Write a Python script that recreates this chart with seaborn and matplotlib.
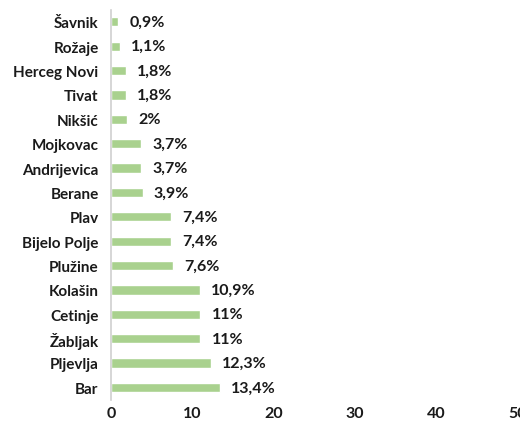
import matplotlib
matplotlib.use("Agg")
import matplotlib.pyplot as plt
import seaborn as sns
import pandas as pd

# Municipalities, top to bottom, and their share in percent
towns = ["Šavnik", "Rožaje", "Herceg Novi", "Tivat", "Nikšić", "Mojkovac",
         "Andrijevica", "Berane", "Plav", "Bijelo Polje", "Plužine", "Kolašin",
         "Cetinje", "Žabljak", "Pljevlja", "Bar"]
shares = [0.9, 1.1, 1.8, 1.8, 2, 3.7, 3.7, 3.9, 7.4, 7.4, 7.6, 10.9,
          11, 11, 12.3, 13.4]
x_ticks = [0, 10, 20, 30, 40, 50]

df = pd.DataFrame({"town": towns, "share": shares})

sns.set_style("white")
plt.rcParams["font.family"] = ["Lato", "DejaVu Sans"]

fig = plt.figure(figsize=(5.2, 4.27), dpi=100)
ax = fig.add_axes([0.2135, 0.062, 0.782, 0.913])

sns.barplot(data=df, x="share", y="town", color="#a9d18e", saturation=1,
            width=0.38, ax=ax)

labels = [(f"{v:g}".replace(".", ",") + "%") for v in shares]
ax.bar_label(ax.containers[0], labels=labels, padding=8,
             fontsize=11.5, fontweight="bold", color="#1a1a1a")

ax.set_xlim(0, 50)
ax.set_xticks(x_ticks)
ax.set_xlabel("")
ax.set_ylabel("")
ax.tick_params(axis="both", length=0, labelsize=11, colors="#1a1a1a")
ax.tick_params(axis="x", labelsize=11.5, pad=5)
ax.tick_params(axis="y", pad=9)
for lbl in ax.get_xticklabels() + ax.get_yticklabels():
    lbl.set_fontweight("bold")

for side in ["top", "right", "bottom"]:
    ax.spines[side].set_visible(False)
ax.spines["left"].set_color("#d0d0d0")
ax.spines["left"].set_linewidth(1.2)

fig.savefig("out.png", dpi=100)
